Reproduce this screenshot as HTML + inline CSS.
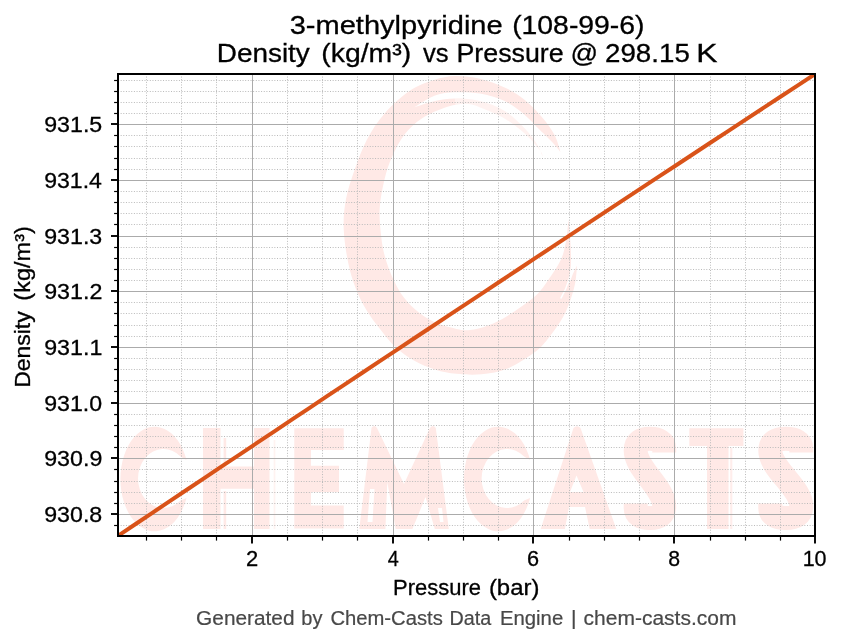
<!DOCTYPE html>
<html><head><meta charset="utf-8"><title>3-methylpyridine density vs pressure</title>
<style>html,body{margin:0;padding:0;background:#fff;}body{width:843px;height:644px;overflow:hidden;}svg{display:block;}text{font-family:"Liberation Sans",sans-serif;}svg{will-change:transform;}</style></head><body>
<svg width="843" height="644" viewBox="0 0 843 644">
<rect width="843" height="644" fill="#fff"/>
<defs><clipPath id="ax"><rect x="118.0" y="74.0" width="697.0" height="462.0"/></clipPath></defs>
<g id="wm" clip-path="url(#ax)">
<path d="M560.5,152.0 C559.5,149.1 557.4,140.3 554.3,134.5 C551.2,128.7 546.8,122.8 541.8,117.0 C536.8,111.2 530.7,104.7 524.5,99.8 C518.3,94.9 512.1,90.9 504.6,87.4 C497.2,83.9 488.1,80.6 479.8,78.7 C471.5,76.8 462.6,75.8 455.0,76.0 C447.4,76.2 441.6,77.5 434.0,80.0 C426.4,82.5 417.6,85.4 409.4,91.0 C401.2,96.6 391.7,105.3 384.6,113.4 C377.5,121.5 371.9,130.2 367.0,139.5 C362.1,148.8 358.4,159.1 354.9,169.0 C351.4,178.9 347.9,189.0 346.0,199.0 C344.1,209.0 343.3,218.4 343.7,229.0 C344.1,239.6 346.1,252.8 348.2,262.8 C350.2,272.8 352.9,281.1 356.0,289.0 C359.1,296.9 362.7,303.8 366.7,310.4 C370.7,317.0 375.2,322.8 380.0,328.9 C384.8,335.0 390.0,342.0 395.7,347.3 C401.4,352.6 407.4,356.9 414.0,360.6 C420.6,364.4 428.3,367.6 435.4,369.8 C442.5,372.0 448.8,373.1 456.5,373.8 C464.2,374.6 472.8,375.2 481.4,374.3 C489.9,373.4 499.0,372.1 507.8,368.5 C516.6,364.9 527.6,357.5 534.2,352.6 C540.8,347.8 543.0,344.7 547.4,339.4 C551.8,334.1 557.2,326.7 560.7,321.0 C564.2,315.3 566.2,311.2 568.6,305.0 C571.0,298.8 573.6,290.6 575.0,284.0 C576.4,277.4 576.7,268.6 577.0,265.5 C576.2,267.1 573.8,271.8 572.5,275.0 C571.2,278.2 569.6,283.3 569.0,285.0 C569.3,281.3 570.8,270.2 571.0,263.0 C571.2,255.8 570.8,249.0 570.4,241.7 C570.0,234.4 568.9,222.9 568.6,219.2 C568.1,222.9 567.2,234.9 565.9,241.7 C564.6,248.5 563.8,253.4 560.7,260.0 C557.6,266.6 551.8,275.1 547.4,281.3 C543.0,287.5 540.8,291.3 534.2,297.0 C527.6,302.7 515.5,310.9 507.8,315.7 C500.1,320.4 494.3,323.1 488.0,325.5 C481.7,327.9 475.2,329.4 470.0,330.0 C464.8,330.6 461.8,330.0 456.5,328.9 C451.2,327.8 444.2,326.2 438.0,323.6 C431.8,321.0 425.2,317.4 419.5,313.0 C413.8,308.6 408.1,302.9 403.7,297.2 C399.3,291.5 396.1,285.3 393.0,278.7 C389.9,272.1 387.2,264.6 385.2,257.5 C383.2,250.4 382.1,244.7 381.2,236.4 C380.3,228.2 379.1,217.6 379.7,208.0 C380.3,198.4 382.6,187.5 384.6,179.0 C386.7,170.5 388.7,164.4 392.0,157.0 C395.3,149.6 399.5,140.9 404.5,134.5 C409.5,128.1 414.8,123.0 421.8,118.4 C428.8,113.8 439.5,109.4 446.7,107.0 C453.9,104.6 459.5,103.8 465.0,103.8 C470.5,103.8 473.2,104.8 479.8,107.2 C486.4,109.6 497.2,114.1 504.6,118.4 C512.1,122.8 518.7,128.1 524.5,133.3 C530.3,138.5 536.3,145.5 539.4,149.4 C542.5,153.3 542.4,155.7 543.0,157.0 C542.0,154.9 540.1,149.2 537.0,144.4 C533.9,139.6 529.9,133.9 524.5,128.3 C519.1,122.7 512.1,115.5 504.6,111.0 C497.2,106.5 488.1,103.1 479.8,101.0 C471.5,98.9 462.5,98.5 455.0,98.5 C447.5,98.5 441.8,99.5 435.0,101.0 C428.2,102.5 417.8,106.2 414.4,107.2 C417.8,105.2 428.2,98.0 435.0,95.5 C441.8,93.0 447.5,92.6 455.0,92.3 C462.5,92.0 471.5,92.1 479.8,93.6 C488.1,95.0 497.2,97.5 504.6,101.0 C512.1,104.5 518.7,109.9 524.5,114.7 C530.3,119.5 534.4,124.6 539.4,129.6 C544.4,134.5 550.8,140.7 554.3,144.4 C557.8,148.1 559.5,150.7 560.5,152.0 Z" fill="#ffe9e6"/>
<path d="M455.0,98.3 C459.1,98.7 471.5,98.7 479.8,100.8 C488.1,102.9 497.2,106.2 504.6,110.8 C512.1,115.3 519.1,122.5 524.5,128.1 C529.9,133.7 533.9,139.3 537.0,144.2 C540.1,149.1 542.3,155.4 543.4,157.6 C542.7,156.3 542.5,153.8 539.4,149.8 C536.2,145.8 530.3,138.9 524.5,133.7 C518.7,128.5 512.1,123.1 504.6,118.8 C497.2,114.5 486.4,110.0 479.8,107.6 C473.2,105.2 469.1,104.7 465.0,104.2 C460.9,103.7 456.7,104.5 455.0,104.5 C455.0,103.5 455.0,99.3 455.0,98.3 Z" fill="#fff" fill-opacity="0.4"/>
<path d="M572.3,262 Q571,281 561,298" stroke="#fff" stroke-width="1.5" fill="none" stroke-linecap="round"/>
<path d="M186.5,460.1 A34.2,52.3 0 1 0 186.5,497.9 L180.5,500.5 A25.5,29.5 0 1 1 180.5,456.5 Z" fill="#ffe9e6"/>
<path d="M203,428 H220.5 V466.4 H254 V428 H269.5 V529 H254 V488.8 H220.5 V529 H203 Z" fill="#ffe9e6"/>
<path d="M223.6,438 H226.2 V466.4 H223.6 Z M223.6,491 H226.2 V529 H223.6 Z" fill="#ffe9e6"/>
<path d="M273.6,440 H275.4 V529 H273.6 Z" fill="#ffe9e6" fill-opacity="0.55"/>
<path d="M294.3,428.3 H343.7 V450 H311 V465.8 H339 V492 H311 V505.6 H343.7 V528.5 H294.3 Z" fill="#ffe9e6"/>
<path d="M359.3,529 L371.5,428 Q374.2,424 377,428 L404,484 L430,428 Q432.9,424 435.8,428 L448.8,529 L434.8,529 L425.5,497 L412.4,529 L395.7,529 L387.3,482 L385.4,529 Z" fill="#ffe9e6"/>
<path d="M370,489 L374.5,489 L372.5,522 L367.5,522 Z M438,508 L442,508 L443.5,522 L440,522 Z" fill="#fff"/>
<path d="M530.1,460.1 A34.2,52.3 0 1 0 530.1,497.9 L524.1,500.5 A25.5,29.5 0 1 1 524.1,456.5 Z" fill="#ffe9e6"/>
<path fill-rule="evenodd" d="M540.7,529 L573.5,428 Q577,424.5 580.5,428 L616.3,529 L589.7,529 L585,507 L569,507 L564.9,529 Z M576.5,475.5 L583.5,492 L570,492 Z" fill="#ffe9e6"/>
<path d="M664.2,452.5 L664.2,448.8 C664.2,441.8 658.5,438.8 650.0,438.8 C641.4,438.8 635.7,441.8 635.7,450.8 C635.7,468.8 664.2,488.0 664.2,506.0 C664.2,515.0 658.5,518.0 650.0,518.0 C641.4,518.0 635.7,515.0 635.7,508.0 L635.7,503.5" fill="none" stroke="#ffe9e6" stroke-width="24.0" stroke-linecap="butt" stroke-linejoin="round"/>
<path d="M689.3,428.3 H743.4 V446 H728.5 V529 H707 V446 H689.3 Z" fill="#ffe9e6"/>
<path d="M730.2,448 H732.3 V529 H730.2 Z" fill="#ffe9e6" fill-opacity="0.8"/>
<path d="M801.3,452.5 L801.3,448.8 C801.3,441.8 795.1,438.8 785.8,438.8 C776.5,438.8 770.3,441.8 770.3,450.8 C770.3,468.8 801.3,488.0 801.3,506.0 C801.3,515.0 795.1,518.0 785.8,518.0 C776.5,518.0 770.3,515.0 770.3,508.0 L770.3,503.5" fill="none" stroke="#ffe9e6" stroke-width="24.0" stroke-linecap="butt" stroke-linejoin="round"/>
</g>
<g stroke="#bababa" stroke-width="1" stroke-dasharray="1 1.65" fill="none">
<line x1="146.5" y1="536.0" x2="146.5" y2="74.0"/>
<line x1="181.5" y1="536.0" x2="181.5" y2="74.0"/>
<line x1="216.5" y1="536.0" x2="216.5" y2="74.0"/>
<line x1="287.5" y1="536.0" x2="287.5" y2="74.0"/>
<line x1="322.5" y1="536.0" x2="322.5" y2="74.0"/>
<line x1="357.5" y1="536.0" x2="357.5" y2="74.0"/>
<line x1="428.5" y1="536.0" x2="428.5" y2="74.0"/>
<line x1="463.5" y1="536.0" x2="463.5" y2="74.0"/>
<line x1="498.5" y1="536.0" x2="498.5" y2="74.0"/>
<line x1="569.5" y1="536.0" x2="569.5" y2="74.0"/>
<line x1="604.5" y1="536.0" x2="604.5" y2="74.0"/>
<line x1="639.5" y1="536.0" x2="639.5" y2="74.0"/>
<line x1="710.5" y1="536.0" x2="710.5" y2="74.0"/>
<line x1="745.5" y1="536.0" x2="745.5" y2="74.0"/>
<line x1="780.5" y1="536.0" x2="780.5" y2="74.0"/>
<line x1="118.0" y1="525.5" x2="815.0" y2="525.5"/>
<line x1="118.0" y1="503.5" x2="815.0" y2="503.5"/>
<line x1="118.0" y1="492.5" x2="815.0" y2="492.5"/>
<line x1="118.0" y1="481.5" x2="815.0" y2="481.5"/>
<line x1="118.0" y1="469.5" x2="815.0" y2="469.5"/>
<line x1="118.0" y1="447.5" x2="815.0" y2="447.5"/>
<line x1="118.0" y1="436.5" x2="815.0" y2="436.5"/>
<line x1="118.0" y1="425.5" x2="815.0" y2="425.5"/>
<line x1="118.0" y1="414.5" x2="815.0" y2="414.5"/>
<line x1="118.0" y1="391.5" x2="815.0" y2="391.5"/>
<line x1="118.0" y1="380.5" x2="815.0" y2="380.5"/>
<line x1="118.0" y1="369.5" x2="815.0" y2="369.5"/>
<line x1="118.0" y1="358.5" x2="815.0" y2="358.5"/>
<line x1="118.0" y1="336.5" x2="815.0" y2="336.5"/>
<line x1="118.0" y1="325.5" x2="815.0" y2="325.5"/>
<line x1="118.0" y1="313.5" x2="815.0" y2="313.5"/>
<line x1="118.0" y1="302.5" x2="815.0" y2="302.5"/>
<line x1="118.0" y1="280.5" x2="815.0" y2="280.5"/>
<line x1="118.0" y1="269.5" x2="815.0" y2="269.5"/>
<line x1="118.0" y1="258.5" x2="815.0" y2="258.5"/>
<line x1="118.0" y1="247.5" x2="815.0" y2="247.5"/>
<line x1="118.0" y1="224.5" x2="815.0" y2="224.5"/>
<line x1="118.0" y1="213.5" x2="815.0" y2="213.5"/>
<line x1="118.0" y1="202.5" x2="815.0" y2="202.5"/>
<line x1="118.0" y1="191.5" x2="815.0" y2="191.5"/>
<line x1="118.0" y1="169.5" x2="815.0" y2="169.5"/>
<line x1="118.0" y1="158.5" x2="815.0" y2="158.5"/>
<line x1="118.0" y1="146.5" x2="815.0" y2="146.5"/>
<line x1="118.0" y1="135.5" x2="815.0" y2="135.5"/>
<line x1="118.0" y1="113.5" x2="815.0" y2="113.5"/>
<line x1="118.0" y1="102.5" x2="815.0" y2="102.5"/>
<line x1="118.0" y1="91.5" x2="815.0" y2="91.5"/>
<line x1="118.0" y1="80.5" x2="815.0" y2="80.5"/>
</g>
<g stroke="#ababab" stroke-width="1" fill="none">
<line x1="252.5" y1="74.0" x2="252.5" y2="536.0"/>
<line x1="393.5" y1="74.0" x2="393.5" y2="536.0"/>
<line x1="533.5" y1="74.0" x2="533.5" y2="536.0"/>
<line x1="674.5" y1="74.0" x2="674.5" y2="536.0"/>
<line x1="118.0" y1="514.5" x2="815.0" y2="514.5"/>
<line x1="118.0" y1="458.5" x2="815.0" y2="458.5"/>
<line x1="118.0" y1="403.5" x2="815.0" y2="403.5"/>
<line x1="118.0" y1="347.5" x2="815.0" y2="347.5"/>
<line x1="118.0" y1="291.5" x2="815.0" y2="291.5"/>
<line x1="118.0" y1="236.5" x2="815.0" y2="236.5"/>
<line x1="118.0" y1="180.5" x2="815.0" y2="180.5"/>
<line x1="118.0" y1="124.5" x2="815.0" y2="124.5"/>
</g>
<polyline clip-path="url(#ax)" points="117.85,535.90 135.29,524.22 152.72,512.55 170.16,500.89 187.59,489.23 205.03,477.58 222.47,465.94 239.90,454.30 257.34,442.67 274.78,431.04 292.21,419.42 309.65,407.81 327.08,396.21 344.52,384.61 361.96,373.02 379.39,361.43 396.83,349.85 414.27,338.28 431.70,326.71 449.14,315.15 466.57,303.60 484.01,292.05 501.45,280.51 518.88,268.98 536.32,257.45 553.76,245.93 571.19,234.42 588.63,222.91 606.06,211.41 623.50,199.91 640.94,188.42 658.37,176.94 675.81,165.47 693.25,154.00 710.68,142.54 728.12,131.08 745.55,119.63 762.99,108.19 780.43,96.75 797.86,85.32 815.30,73.90" fill="none" stroke="#d95319" stroke-width="4" stroke-linecap="square"/>
<g stroke="#000" fill="none">
<line x1="252" y1="536.0" x2="252" y2="543.4" stroke-width="1.9"/>
<line x1="393" y1="536.0" x2="393" y2="543.4" stroke-width="1.9"/>
<line x1="533" y1="536.0" x2="533" y2="543.4" stroke-width="1.9"/>
<line x1="674" y1="536.0" x2="674" y2="543.4" stroke-width="1.9"/>
<line x1="815" y1="536.0" x2="815" y2="543.4" stroke-width="1.9"/>
<line x1="146.5" y1="536.0" x2="146.5" y2="540.6" stroke-width="1.2"/>
<line x1="181.5" y1="536.0" x2="181.5" y2="540.6" stroke-width="1.2"/>
<line x1="216.5" y1="536.0" x2="216.5" y2="540.6" stroke-width="1.2"/>
<line x1="287.5" y1="536.0" x2="287.5" y2="540.6" stroke-width="1.2"/>
<line x1="322.5" y1="536.0" x2="322.5" y2="540.6" stroke-width="1.2"/>
<line x1="357.5" y1="536.0" x2="357.5" y2="540.6" stroke-width="1.2"/>
<line x1="428.5" y1="536.0" x2="428.5" y2="540.6" stroke-width="1.2"/>
<line x1="463.5" y1="536.0" x2="463.5" y2="540.6" stroke-width="1.2"/>
<line x1="498.5" y1="536.0" x2="498.5" y2="540.6" stroke-width="1.2"/>
<line x1="569.5" y1="536.0" x2="569.5" y2="540.6" stroke-width="1.2"/>
<line x1="604.5" y1="536.0" x2="604.5" y2="540.6" stroke-width="1.2"/>
<line x1="639.5" y1="536.0" x2="639.5" y2="540.6" stroke-width="1.2"/>
<line x1="710.5" y1="536.0" x2="710.5" y2="540.6" stroke-width="1.2"/>
<line x1="745.5" y1="536.0" x2="745.5" y2="540.6" stroke-width="1.2"/>
<line x1="780.5" y1="536.0" x2="780.5" y2="540.6" stroke-width="1.2"/>
<line x1="111.0" y1="514" x2="118.0" y2="514" stroke-width="1.9"/>
<line x1="111.0" y1="458" x2="118.0" y2="458" stroke-width="1.9"/>
<line x1="111.0" y1="403" x2="118.0" y2="403" stroke-width="1.9"/>
<line x1="111.0" y1="347" x2="118.0" y2="347" stroke-width="1.9"/>
<line x1="111.0" y1="291" x2="118.0" y2="291" stroke-width="1.9"/>
<line x1="111.0" y1="236" x2="118.0" y2="236" stroke-width="1.9"/>
<line x1="111.0" y1="180" x2="118.0" y2="180" stroke-width="1.9"/>
<line x1="111.0" y1="124" x2="118.0" y2="124" stroke-width="1.9"/>
<line x1="114.1" y1="525.5" x2="118.0" y2="525.5" stroke-width="1.2"/>
<line x1="114.1" y1="503.5" x2="118.0" y2="503.5" stroke-width="1.2"/>
<line x1="114.1" y1="492.5" x2="118.0" y2="492.5" stroke-width="1.2"/>
<line x1="114.1" y1="481.5" x2="118.0" y2="481.5" stroke-width="1.2"/>
<line x1="114.1" y1="469.5" x2="118.0" y2="469.5" stroke-width="1.2"/>
<line x1="114.1" y1="447.5" x2="118.0" y2="447.5" stroke-width="1.2"/>
<line x1="114.1" y1="436.5" x2="118.0" y2="436.5" stroke-width="1.2"/>
<line x1="114.1" y1="425.5" x2="118.0" y2="425.5" stroke-width="1.2"/>
<line x1="114.1" y1="414.5" x2="118.0" y2="414.5" stroke-width="1.2"/>
<line x1="114.1" y1="391.5" x2="118.0" y2="391.5" stroke-width="1.2"/>
<line x1="114.1" y1="380.5" x2="118.0" y2="380.5" stroke-width="1.2"/>
<line x1="114.1" y1="369.5" x2="118.0" y2="369.5" stroke-width="1.2"/>
<line x1="114.1" y1="358.5" x2="118.0" y2="358.5" stroke-width="1.2"/>
<line x1="114.1" y1="336.5" x2="118.0" y2="336.5" stroke-width="1.2"/>
<line x1="114.1" y1="325.5" x2="118.0" y2="325.5" stroke-width="1.2"/>
<line x1="114.1" y1="313.5" x2="118.0" y2="313.5" stroke-width="1.2"/>
<line x1="114.1" y1="302.5" x2="118.0" y2="302.5" stroke-width="1.2"/>
<line x1="114.1" y1="280.5" x2="118.0" y2="280.5" stroke-width="1.2"/>
<line x1="114.1" y1="269.5" x2="118.0" y2="269.5" stroke-width="1.2"/>
<line x1="114.1" y1="258.5" x2="118.0" y2="258.5" stroke-width="1.2"/>
<line x1="114.1" y1="247.5" x2="118.0" y2="247.5" stroke-width="1.2"/>
<line x1="114.1" y1="224.5" x2="118.0" y2="224.5" stroke-width="1.2"/>
<line x1="114.1" y1="213.5" x2="118.0" y2="213.5" stroke-width="1.2"/>
<line x1="114.1" y1="202.5" x2="118.0" y2="202.5" stroke-width="1.2"/>
<line x1="114.1" y1="191.5" x2="118.0" y2="191.5" stroke-width="1.2"/>
<line x1="114.1" y1="169.5" x2="118.0" y2="169.5" stroke-width="1.2"/>
<line x1="114.1" y1="158.5" x2="118.0" y2="158.5" stroke-width="1.2"/>
<line x1="114.1" y1="146.5" x2="118.0" y2="146.5" stroke-width="1.2"/>
<line x1="114.1" y1="135.5" x2="118.0" y2="135.5" stroke-width="1.2"/>
<line x1="114.1" y1="113.5" x2="118.0" y2="113.5" stroke-width="1.2"/>
<line x1="114.1" y1="102.5" x2="118.0" y2="102.5" stroke-width="1.2"/>
<line x1="114.1" y1="91.5" x2="118.0" y2="91.5" stroke-width="1.2"/>
<line x1="114.1" y1="80.5" x2="118.0" y2="80.5" stroke-width="1.2"/>
</g>
<rect x="118.0" y="74.0" width="697.0" height="462.0" fill="none" stroke="#000" stroke-width="2"/>
<text x="289.73" y="33.80" font-size="26.1" fill="#000" stroke="#000" stroke-width="0.3" textLength="212.93" lengthAdjust="spacingAndGlyphs">3-methylpyridine</text>
<text x="512.15" y="33.80" font-size="26.1" fill="#000" stroke="#000" stroke-width="0.3" textLength="132.38" lengthAdjust="spacingAndGlyphs">(108-99-6)</text>
<text x="216.72" y="61.50" font-size="26.1" fill="#000" stroke="#000" stroke-width="0.3" textLength="93.12" lengthAdjust="spacingAndGlyphs">Density</text>
<text x="321.25" y="61.50" font-size="26.1" fill="#000" stroke="#000" stroke-width="0.3" textLength="89.90" lengthAdjust="spacingAndGlyphs">(kg/m³)</text>
<text x="423.02" y="61.50" font-size="26.1" fill="#000" stroke="#000" stroke-width="0.3" textLength="25.62" lengthAdjust="spacingAndGlyphs">vs</text>
<text x="456.51" y="61.50" font-size="26.1" fill="#000" stroke="#000" stroke-width="0.3" textLength="107.16" lengthAdjust="spacingAndGlyphs">Pressure</text>
<text x="570.51" y="61.50" font-size="26.1" fill="#000" stroke="#000" stroke-width="0.3" textLength="27.55" lengthAdjust="spacingAndGlyphs">@</text>
<text x="605.06" y="61.50" font-size="26.1" fill="#000" stroke="#000" stroke-width="0.3" textLength="84.76" lengthAdjust="spacingAndGlyphs">298.15</text>
<text x="696.20" y="61.50" font-size="26.1" fill="#000" stroke="#000" stroke-width="0.3" textLength="21.23" lengthAdjust="spacingAndGlyphs">K</text>
<text x="44.21" y="521.65" font-size="22.3" fill="#000" stroke="#000" stroke-width="0.3" textLength="58.03" lengthAdjust="spacingAndGlyphs">930.8</text>
<text x="44.20" y="465.65" font-size="22.3" fill="#000" stroke="#000" stroke-width="0.3" textLength="58.15" lengthAdjust="spacingAndGlyphs">930.9</text>
<text x="44.21" y="410.65" font-size="22.3" fill="#000" stroke="#000" stroke-width="0.3" textLength="57.91" lengthAdjust="spacingAndGlyphs">931.0</text>
<text x="44.20" y="354.65" font-size="22.3" fill="#000" stroke="#000" stroke-width="0.3" textLength="58.15" lengthAdjust="spacingAndGlyphs">931.1</text>
<text x="44.20" y="298.65" font-size="22.3" fill="#000" stroke="#000" stroke-width="0.3" textLength="58.15" lengthAdjust="spacingAndGlyphs">931.2</text>
<text x="44.21" y="243.65" font-size="22.3" fill="#000" stroke="#000" stroke-width="0.3" textLength="58.03" lengthAdjust="spacingAndGlyphs">931.3</text>
<text x="44.21" y="187.65" font-size="22.3" fill="#000" stroke="#000" stroke-width="0.3" textLength="57.67" lengthAdjust="spacingAndGlyphs">931.4</text>
<text x="44.21" y="131.65" font-size="22.3" fill="#000" stroke="#000" stroke-width="0.3" textLength="58.03" lengthAdjust="spacingAndGlyphs">931.5</text>
<text x="245.95" y="566.30" font-size="22.3" fill="#000" stroke="#000" stroke-width="0.3" textLength="12.21" lengthAdjust="spacingAndGlyphs">2</text>
<text x="387.65" y="566.30" font-size="22.3" fill="#000" stroke="#000" stroke-width="0.3" textLength="11.01" lengthAdjust="spacingAndGlyphs">4</text>
<text x="526.96" y="566.30" font-size="22.3" fill="#000" stroke="#000" stroke-width="0.3" textLength="12.08" lengthAdjust="spacingAndGlyphs">6</text>
<text x="668.20" y="566.30" font-size="22.3" fill="#000" stroke="#000" stroke-width="0.3" textLength="11.83" lengthAdjust="spacingAndGlyphs">8</text>
<text x="802.64" y="566.30" font-size="22.3" fill="#000" stroke="#000" stroke-width="0.3" textLength="23.92" lengthAdjust="spacingAndGlyphs">10</text>
<text x="393.09" y="594.70" font-size="21.7" fill="#000" stroke="#000" stroke-width="0.3" textLength="87.87" lengthAdjust="spacingAndGlyphs">Pressure</text>
<text x="488.92" y="594.70" font-size="21.7" fill="#000" stroke="#000" stroke-width="0.3" textLength="50.49" lengthAdjust="spacingAndGlyphs">(bar)</text>
<g transform="translate(29.6,386.5) rotate(-90)">
<text x="-1.28" y="0.00" font-size="21.7" fill="#000" stroke="#000" stroke-width="0.3" textLength="76.42" lengthAdjust="spacingAndGlyphs">Density</text>
<text x="85.84" y="0.00" font-size="21.7" fill="#000" stroke="#000" stroke-width="0.3" textLength="74.53" lengthAdjust="spacingAndGlyphs">(kg/m³)</text>
</g>
<text x="196.11" y="624.80" font-size="19.6" fill="#484848" stroke="#484848" stroke-width="0.2" textLength="98.41" lengthAdjust="spacingAndGlyphs">Generated</text>
<text x="301.35" y="624.80" font-size="19.6" fill="#484848" stroke="#484848" stroke-width="0.2" textLength="21.12" lengthAdjust="spacingAndGlyphs">by</text>
<text x="330.44" y="624.80" font-size="19.6" fill="#484848" stroke="#484848" stroke-width="0.2" textLength="112.35" lengthAdjust="spacingAndGlyphs">Chem-Casts</text>
<text x="449.47" y="624.80" font-size="19.6" fill="#484848" stroke="#484848" stroke-width="0.2" textLength="41.73" lengthAdjust="spacingAndGlyphs">Data</text>
<text x="499.92" y="624.80" font-size="19.6" fill="#484848" stroke="#484848" stroke-width="0.2" textLength="63.32" lengthAdjust="spacingAndGlyphs">Engine</text>
<text x="571.04" y="624.80" font-size="19.6" fill="#484848" stroke="#484848" stroke-width="0.2" textLength="5.52" lengthAdjust="spacingAndGlyphs">|</text>
<text x="583.61" y="624.80" font-size="19.6" fill="#484848" stroke="#484848" stroke-width="0.2" textLength="152.79" lengthAdjust="spacingAndGlyphs">chem-casts.com</text>
</svg></body></html>
